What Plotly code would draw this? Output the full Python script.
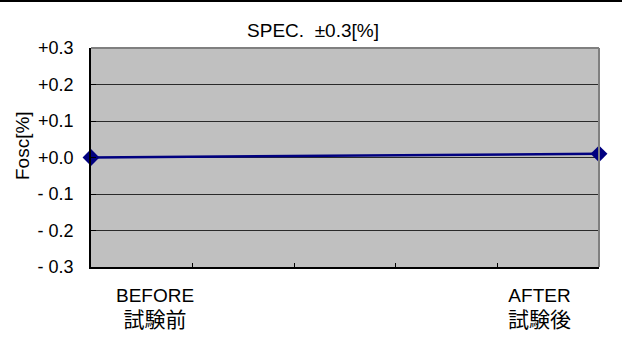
import plotly.graph_objects as go

# Measurement stages and Fosc deviation [%]
stage_en = ["BEFORE", "AFTER"]
stage_ja = ["試験前", "試験後"]
stage_pos = [0, 5]
fosc = [0.0, 0.01]

# Axis ticks
y_ticks = [0.3, 0.2, 0.1, 0.0, -0.1, -0.2, -0.3]
y_ticktext = ["+0.3", "+0.2", "+0.1", "+0.0", "- 0.1", "- 0.2", "- 0.3"]
x_minor_ticks = [1, 2, 3, 4]
label_pos = [0.63, 4.41]

W, H = 622, 345
ML, MR, MT, MB = 91, 23, 48, 78
PW, PH = W - ML - MR, H - MT - MB

LATIN = "Liberation Sans, Arial, sans-serif"
CJK = "Liberation Sans, Noto Sans CJK JP, sans-serif"

fig = go.Figure()
fig.add_trace(go.Scatter(
    x=stage_pos, y=fosc, mode="lines+markers",
    line=dict(color="#000080", width=2.5),
    marker=dict(symbol="diamond", size=13, color="#000080"),
    cliponaxis=False, showlegend=False,
))

fig.update_layout(
    width=W, height=H,
    margin=dict(l=ML, r=MR, t=MT, b=MB),
    paper_bgcolor="white", plot_bgcolor="#C0C0C0",
    font=dict(family=LATIN, size=18, color="black"),
    title=dict(text="SPEC.  ±0.3[%]", x=313 / W, xanchor="center",
               y=1 - 30 / H, yanchor="middle", font=dict(size=19)),
    xaxis=dict(range=[0, 5], tickvals=x_minor_ticks, ticks="inside", ticklen=4,
               tickcolor="black", showticklabels=False, showgrid=False,
               zeroline=False, showline=True, linecolor="black", linewidth=1.5,
               mirror=False, fixedrange=True),
    yaxis=dict(range=[-0.3, 0.3], tickvals=y_ticks, ticktext=y_ticktext,
               ticks="inside", ticklen=5, tickcolor="black",
               ticklabelstandoff=12,
               showgrid=True, gridcolor="#2a2a2a", gridwidth=1,
               zeroline=False, showline=True, linecolor="black", linewidth=1.5,
               tickfont=dict(size=18), fixedrange=True),
)

# Y-axis title, set slightly above the plot's vertical centre
fig.add_annotation(text="Fosc[%]", xref="paper", yref="paper",
                   x=-(ML - 22) / PW, y=(H - MB - 146) / PH, textangle=-90,
                   showarrow=False, xanchor="center", yanchor="middle",
                   font=dict(size=19))

# Gray frame on the top and right of the plot area
fig.add_shape(type="line", xref="paper", yref="paper", x0=0, x1=1, y0=1, y1=1,
              line=dict(color="#808080", width=2))
fig.add_shape(type="line", xref="paper", yref="paper", x0=1, x1=1, y0=0, y1=1,
              line=dict(color="#808080", width=2))

# Rule across the top of the page
fig.add_shape(type="line", xref="paper", yref="paper",
              x0=-ML / PW, x1=1 + MR / PW, y0=1 + (MT - 1) / PH, y1=1 + (MT - 1) / PH,
              line=dict(color="black", width=2))

# Stage labels under the axis
for xp, en, ja in zip(label_pos, stage_en, stage_ja):
    txt = f"{en}<br><span style='font-size:21px'>{ja}</span>"
    fig.add_annotation(x=xp, y=-41 / PH, xref="x", yref="paper", text=txt,
                       showarrow=False, xanchor="center", yanchor="middle",
                       align="center", font=dict(family=CJK, size=19))

fig.write_html("out.html")
